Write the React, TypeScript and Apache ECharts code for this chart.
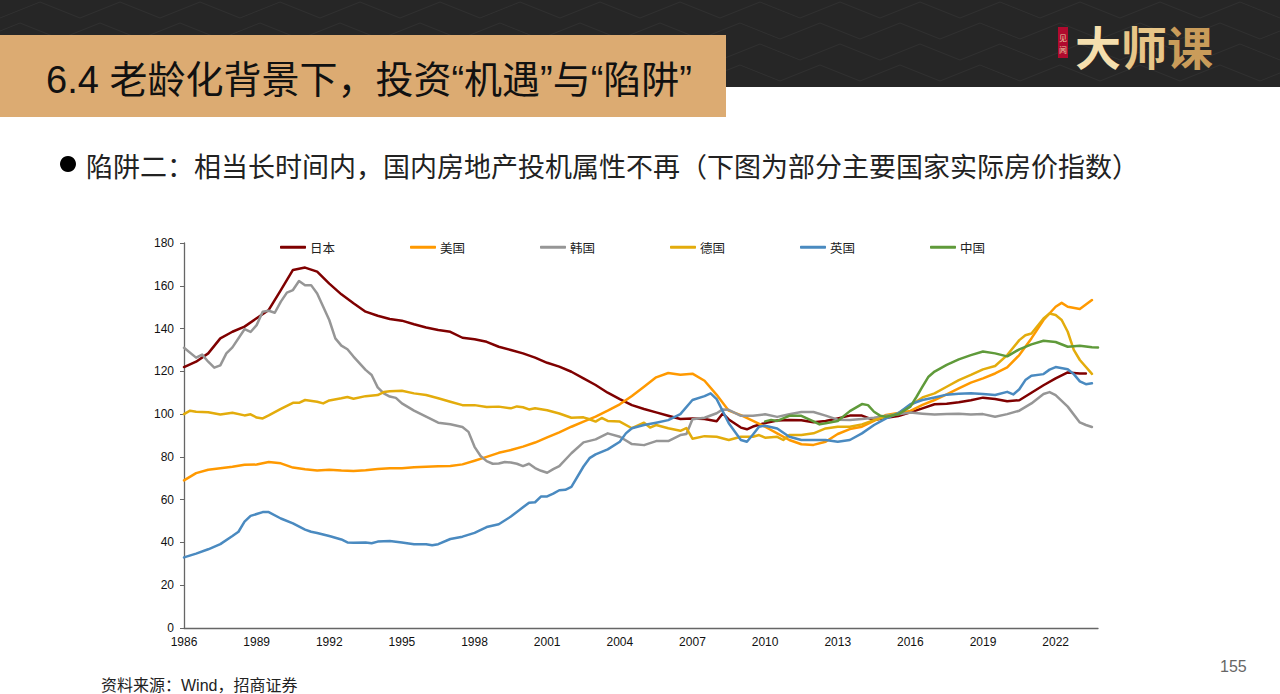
import React, { useEffect, useRef } from "react";
import * as echarts from "echarts";

const tickYears = [1986, 1989, 1992, 1995, 1998, 2001, 2004, 2007, 2010, 2013, 2016, 2019, 2022];

const japan = [[1986,122],[1986.5,124.5],[1987,128.4],[1987.5,135.4],[1988,138.5],[1988.5,140.9],[1989,144.8],[1989.5,148.7],[1990,158],[1990.5,167.4],[1991,168.5],[1991.5,166.6],[1992,161],[1992.5,156],[1993,151.8],[1993.5,147.9],[1994,146],[1994.5,144.5],[1995,143.7],[1995.5,142],[1996,140.5],[1996.5,139.3],[1997,138.5],[1997.5,135.7],[1998,135],[1998.5,133.8],[1999,131.5],[1999.5,130],[2000,128.4],[2000.5,126.4],[2001,124],[2001.5,122.2],[2002,119.8],[2002.5,116.7],[2003,113.6],[2003.5,110],[2004,107],[2004.5,104.2],[2005,102.4],[2005.5,100.8],[2006,99.2],[2006.5,97.7],[2007,98],[2007.5,97.7],[2008,96.7],[2008.25,100.3],[2008.5,97.5],[2009,93.7],[2009.25,92.9],[2009.5,94.2],[2010,95.8],[2010.5,97],[2011,97.3],[2011.5,97.1],[2012,96.2],[2012.5,96.8],[2013,98],[2013.5,99.3],[2014,99.3],[2014.5,97.2],[2015,98.3],[2015.5,99.1],[2016,100.8],[2016.5,102.7],[2017,104.6],[2017.5,104.8],[2018,105.5],[2018.5,106.5],[2019,107.7],[2019.5,107.1],[2020,106],[2020.5,106.5],[2021,110],[2021.5,113.5],[2022,116.7],[2022.5,119.5],[2023,119],[2023.25,119]];

const usa = [[1986,69],[1986.5,72.4],[1987,74],[1987.5,74.7],[1988,75.4],[1988.5,76.3],[1989,76.4],[1989.5,77.6],[1990,77],[1990.5,75],[1991,74.2],[1991.5,73.6],[1992,74],[1992.5,73.6],[1993,73.4],[1993.5,73.7],[1994,74.3],[1994.5,74.7],[1995,74.7],[1995.5,75.1],[1996,75.4],[1996.5,75.6],[1997,75.7],[1997.5,76.5],[1998,78.2],[1998.5,80],[1999,81.9],[1999.5,83.2],[2000,84.8],[2000.5,86.7],[2001,89.1],[2001.5,91.5],[2002,94.1],[2002.5,96.5],[2003,98.8],[2003.5,101.6],[2004,104.6],[2004.5,108.5],[2005,112.8],[2005.5,117.2],[2006,119.2],[2006.5,118.4],[2007,118.9],[2007.5,115.6],[2008,109],[2008.5,101.6],[2009,99.5],[2009.5,96.8],[2010,94.1],[2010.5,91],[2011,87.9],[2011.5,85.9],[2012,85.6],[2012.5,87.1],[2013,90.7],[2013.5,93],[2014,94.1],[2014.5,96.8],[2015,99.6],[2015.5,100.5],[2016,101.5],[2016.5,104.3],[2017,106.6],[2017.5,109.2],[2018,112],[2018.5,114.7],[2019,116.7],[2019.5,119],[2020,121.9],[2020.5,127.6],[2021,135.4],[2021.5,144],[2022,150.2],[2022.25,152],[2022.5,150.2],[2023,149.1],[2023.5,153.3]];

const korea = [[1986,131],[1986.5,126.4],[1986.75,127.8],[1987,124.5],[1987.25,121.7],[1987.5,122.8],[1987.75,128.4],[1988,131.2],[1988.5,139.7],[1988.75,138.4],[1989,141.6],[1989.25,147.9],[1989.5,148.3],[1989.75,147.4],[1990,152.6],[1990.25,156.8],[1990.5,158],[1990.75,162.2],[1991,160.2],[1991.25,160.3],[1991.5,156.4],[1992,144],[1992.25,135.4],[1992.5,132],[1992.75,130.3],[1993,126.9],[1993.5,120.7],[1993.75,118.3],[1994,112.5],[1994.25,109.7],[1994.5,108.2],[1994.75,107.6],[1995,105],[1995.5,101.6],[1996,98.8],[1996.5,96],[1997,95.3],[1997.5,94],[1997.75,91.7],[1998,84.7],[1998.25,80.4],[1998.5,78],[1998.75,76.8],[1999,76.9],[1999.25,77.6],[1999.5,77.4],[1999.75,76.8],[2000,75.7],[2000.25,76.8],[2000.5,74.8],[2000.75,73.5],[2001,72.6],[2001.25,74.3],[2001.5,75.7],[2002,81.7],[2002.5,86.8],[2003,88.2],[2003.5,91],[2004,89.4],[2004.5,86],[2005,85.5],[2005.5,87.4],[2006,87.4],[2006.5,90.2],[2006.75,90.7],[2007,97.6],[2007.5,98.3],[2008,100.4],[2008.25,102.2],[2008.5,102],[2009,99.2],[2009.5,99.2],[2010,99.9],[2010.5,98.7],[2011,99.9],[2011.5,101],[2012,101],[2012.5,99.3],[2013,97.4],[2013.5,97.2],[2014,97.7],[2014.5,98.3],[2015,99.3],[2015.5,99.9],[2016,100.7],[2016.5,100.2],[2017,99.8],[2017.5,100],[2018,100.2],[2018.5,99.8],[2019,100],[2019.5,98.8],[2020,100],[2020.5,101.6],[2021,105],[2021.5,109.4],[2021.75,110.3],[2022,108.9],[2022.5,103.5],[2023,96.1],[2023.25,94.9],[2023.5,94]];

const germany = [[1986,100],[1986.25,101.6],[1986.5,101.1],[1987,100.9],[1987.5,99.8],[1988,100.6],[1988.5,99.4],[1988.75,99.9],[1989,98.4],[1989.25,98],[1989.5,99.4],[1990,102.4],[1990.5,105.3],[1990.75,105.3],[1991,106.6],[1991.5,105.8],[1991.75,105],[1992,106.4],[1992.5,107.4],[1992.75,108],[1993,107.2],[1993.5,108.4],[1994,108.9],[1994.25,110.3],[1994.5,110.7],[1995,110.9],[1995.5,109.7],[1996,108.9],[1996.5,107.4],[1997,105.8],[1997.5,104.2],[1998,104.2],[1998.5,103.3],[1999,103.5],[1999.5,102.7],[1999.75,103.6],[2000,103.2],[2000.25,102.2],[2000.5,102.7],[2001,101.8],[2001.5,100.3],[2002,98.3],[2002.5,98.5],[2002.75,97.6],[2003,96.5],[2003.25,98.2],[2003.5,96.8],[2004,96.5],[2004.5,93.4],[2005,96],[2005.25,93.7],[2005.5,94.9],[2006,93.4],[2006.5,92.2],[2006.75,93.5],[2007,88.5],[2007.5,89.7],[2008,89.4],[2008.5,87.9],[2009,89.4],[2009.5,89.4],[2009.75,90.2],[2010,89],[2010.5,89.4],[2010.75,87.9],[2011,90.2],[2011.5,90.2],[2012,91],[2012.5,93.3],[2013,94.1],[2013.5,94.1],[2014,95.2],[2014.5,97.2],[2015,98.8],[2015.5,100.4],[2016,104],[2016.5,107.8],[2017,109.7],[2017.5,112.8],[2018,115.9],[2018.5,118.3],[2019,120.9],[2019.5,122.5],[2020,127.6],[2020.5,134.6],[2020.75,136.9],[2021,137.7],[2021.5,144.7],[2021.75,147],[2022,146.3],[2022.25,144],[2022.5,138.5],[2022.75,130],[2023,125.3],[2023.5,118.8]];

const uk = [[1986,33],[1986.5,34.8],[1987,36.8],[1987.5,39.2],[1988,43],[1988.25,45],[1988.5,49.7],[1988.75,52.4],[1989,53.3],[1989.25,54.2],[1989.5,54.2],[1990,51.2],[1990.5,48.9],[1991,46],[1991.25,45],[1991.5,44.4],[1992,43],[1992.5,41.4],[1992.75,40],[1993,39.9],[1993.5,40],[1993.75,39.6],[1994,40.4],[1994.5,40.7],[1995,40],[1995.5,39.2],[1996,39.2],[1996.25,38.7],[1996.5,39.2],[1997,41.6],[1997.5,42.7],[1998,44.5],[1998.5,47.2],[1999,48.5],[1999.5,52.1],[2000,56.4],[2000.25,58.6],[2000.5,58.8],[2000.75,61.5],[2001,61.5],[2001.25,62.8],[2001.5,64.4],[2001.75,64.6],[2002,66],[2002.5,75.5],[2002.75,79.4],[2003,81.2],[2003.5,83.5],[2004,87.1],[2004.25,91],[2004.5,93.4],[2005,94.9],[2005.5,96],[2006,97.2],[2006.5,100],[2007,106.6],[2007.5,108.4],[2007.75,109.7],[2008,107],[2008.5,95.7],[2009,87.9],[2009.25,87.1],[2009.5,90.5],[2009.75,94.1],[2010,94.6],[2010.5,93.3],[2011,89.4],[2011.5,87.9],[2012,87.9],[2012.5,87.9],[2013,87.1],[2013.5,87.9],[2014,91],[2014.5,94.9],[2015,98],[2015.5,100.4],[2016,104.6],[2016.5,106.6],[2017,107.8],[2017.5,109.1],[2018,109.5],[2018.5,109.7],[2019,109.4],[2019.5,108.9],[2020,110.4],[2020.25,109.2],[2020.5,111.6],[2020.75,115.9],[2021,117.9],[2021.5,118.7],[2021.75,120.8],[2022,122],[2022.5,121],[2022.75,118.7],[2023,115.3],[2023.25,114],[2023.5,114.4]];

const china = [[2010,96.6],[2010.25,97.3],[2010.5,96.8],[2011,99.2],[2011.5,99.2],[2012,96.6],[2012.25,95.2],[2012.5,95.7],[2013,96.8],[2013.5,101.4],[2014,104.7],[2014.25,104.2],[2014.5,101.1],[2014.75,99.3],[2015,98.8],[2015.5,99.9],[2016,103.5],[2016.25,108],[2016.5,112.8],[2016.75,117.5],[2017,119.9],[2017.5,123],[2018,125.6],[2018.5,127.6],[2019,129.3],[2019.5,128.4],[2020,127],[2020.5,130.3],[2021,132.6],[2021.5,134.3],[2022,133.7],[2022.5,131.5],[2023,132],[2023.5,131.3],[2023.75,131.2]];

const names = ["日本", "美国", "韩国", "德国", "英国", "中国"];
const colors = ["#7F0000", "#FF9900", "#969696", "#E3AC0C", "#4A8AC0", "#5F9A3A"];
const seriesData = [japan, usa, korea, germany, uk, china];

const titleText = "6.4 老龄化背景下，投资“机遇”与“陷阱”";
const bulletText = "陷阱二：相当长时间内，国内房地产投机属性不再（下图为部分主要国家实际房价指数）";
const sourceText = "资料来源：Wind，招商证券";
const pageNumber = "155";
const logoChars = ["大", "师", "课"];
const logoColors = ["#F5DFAE", "#E8C688", "#C99C5A"];

const CJK = '"Liberation Sans", "Noto Sans CJK SC", sans-serif';
const CJK_ONLY = '"Noto Sans CJK SC", sans-serif';

function zigzagRows() {
  const rows: any[] = [];
  for (let r = 0; r < 4; r++) {
    const y = 10 + r * 21;
    const pts: number[][] = [];
    for (let k = 0; k <= 34; k++) pts.push([k * 40 - (r % 2) * 20, y + (k % 2 === 0 ? 8 : -8)]);
    rows.push({ type: "polyline", silent: true, shape: { points: pts }, style: { stroke: "#313131", lineWidth: 1, fill: null } });
  }
  return rows;
}

export default function App() {
  const ref = useRef<HTMLDivElement>(null);
  useEffect(() => {
    document.body.style.margin = "0";
    const chart = echarts.init(ref.current!, null, { renderer: "svg" });
    chart.setOption({
      animation: false,
      backgroundColor: "#fff",
      textStyle: { fontFamily: CJK },
      grid: { left: 184, right: 182, top: 243, bottom: 66, containLabel: false },
      legend: {
        left: 280,
        top: 241,
        itemWidth: 26,
        itemHeight: 3,
        itemGap: 75,
        icon: "roundRect",
        padding: 0,
        data: names,
        textStyle: { fontSize: 12.5, color: "#222", padding: [0, 0, 0, -1], fontFamily: CJK_ONLY },
      },
      xAxis: {
        type: "value",
        min: 1986,
        max: 2023.75,
        interval: 3,
        splitLine: { show: false },
        axisLine: { show: true, lineStyle: { color: "#666", width: 1.3 } },
        axisTick: { show: false },
        axisLabel: {
          margin: 8,
          fontSize: 12,
          color: "#111",
          fontFamily: '"Liberation Sans", sans-serif',
          showMaxLabel: false,
          formatter: (v: number) => (tickYears.includes(v) ? String(v) : ""),
        },
      },
      yAxis: {
        type: "value",
        min: 0,
        max: 180,
        interval: 20,
        splitLine: { show: false },
        axisLine: { show: true, lineStyle: { color: "#666", width: 1.3 } },
        axisTick: { show: true, length: 4, inside: false, lineStyle: { color: "#666" } },
        axisLabel: { margin: 10, fontSize: 12, color: "#111", fontFamily: '"Liberation Sans", sans-serif' },
      },
      series: names.map((name, i) => ({
        name,
        type: "line",
        data: seriesData[i],
        symbol: "none",
        smooth: false,
        color: colors[i],
        lineStyle: { width: 2.5, color: colors[i], join: "round", cap: "round" },
      })),
      graphic: [
        { type: "rect", silent: true, shape: { x: 0, y: 0, width: 1280, height: 87 }, style: { fill: "#262626" } },
        ...zigzagRows(),
        { type: "rect", silent: true, shape: { x: 0, y: 35, width: 726, height: 82 }, style: { fill: "#DCAB72" } },
        { type: "text", silent: true, x: 46, y: 80, style: { text: titleText, fontSize: 38, fill: "#111", fontFamily: CJK, verticalAlign: "middle" } },
        { type: "circle", silent: true, shape: { cx: 68, cy: 164, r: 8 }, style: { fill: "#000" } },
        { type: "text", silent: true, x: 86, y: 165, style: { text: bulletText, fontSize: 27, fill: "#222", fontFamily: CJK_ONLY, verticalAlign: "middle" } },
        { type: "rect", silent: true, shape: { x: 1058, y: 27, width: 10, height: 31 }, style: { fill: "#B00A2E" } },
        { type: "text", silent: true, x: 1059, y: 37, style: { text: "见", fontSize: 8, fill: "#E9C9A0", fontFamily: CJK_ONLY, verticalAlign: "middle" } },
        { type: "text", silent: true, x: 1059, y: 49, style: { text: "闻", fontSize: 8, fill: "#E9C9A0", fontFamily: CJK_ONLY, verticalAlign: "middle" } },
        ...logoChars.map((ch, i) => ({
          type: "text", silent: true, x: 1075 + i * 46, y: 45,
          style: { text: ch, fontSize: 46, fontWeight: "bold", fontFamily: CJK_ONLY, verticalAlign: "middle", fill: logoColors[i] },
        })),
        { type: "text", silent: true, x: 101, y: 685, style: { text: sourceText, fontSize: 16, fill: "#222", fontFamily: CJK, verticalAlign: "middle" } },
        { type: "text", silent: true, x: 1220, y: 666, style: { text: pageNumber, fontSize: 16, fill: "#666", fontFamily: '"Liberation Sans", sans-serif', verticalAlign: "middle" } },
      ],
    });
    return () => chart.dispose();
  }, []);
  return <div ref={ref} style={{ width: 1280, height: 694 }} />;
}
